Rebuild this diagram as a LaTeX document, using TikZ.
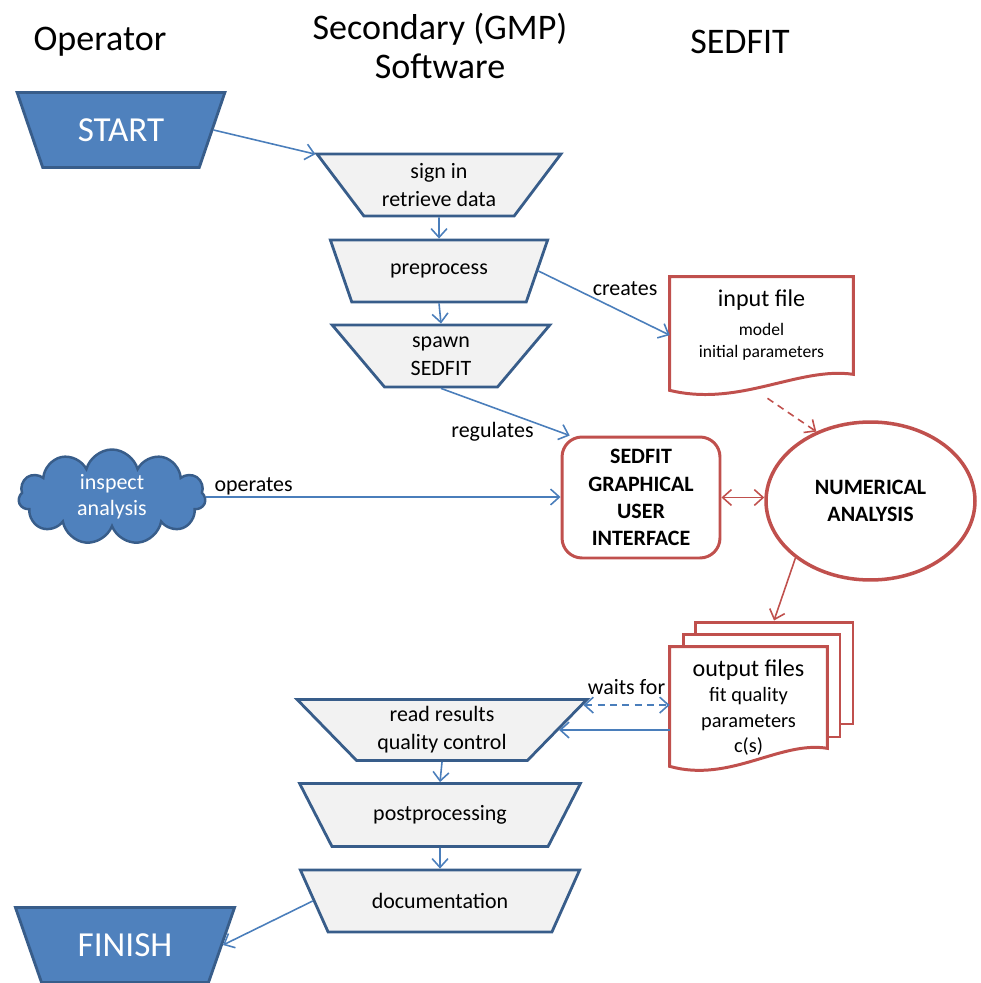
\documentclass[tikz,border=0pt]{standalone}
\usepackage{fontspec}
\setmainfont{Carlito}
\usepackage{xcolor}
\usetikzlibrary{arrows.meta,backgrounds,calc,positioning,shapes.geometric,shapes.symbols}
\definecolor{boxblue}{HTML}{4F81BD}
\definecolor{darkblue}{HTML}{385D8A}
\definecolor{lineblue}{HTML}{4A7EBB}
\definecolor{boxred}{HTML}{C0504D}
\definecolor{boxgrey}{HTML}{F2F2F2}
\tikzset{%
	stepbox/.style  = {draw=darkblue, fill=boxgrey, line width=1.6pt, trapezium, shape border rotate=180, trapezium stretches=true, inner sep=1pt, align=center, font=\fontsize{12.5}{16}\selectfont},
	termbox/.style  = {stepbox, fill=boxblue, text=white, font=\fontsize{20}{24}\selectfont},
	cloudbox/.style = {cloud, cloud puffs=11, cloud ignores aspect, draw=darkblue, fill=boxblue, line width=1.4pt, text=white, align=center, inner sep=1pt, font=\fontsize{12.5}{15}\selectfont},
	guibox/.style   = {draw=boxred, line width=1.7pt, rounded corners=0.4cm, align=center, font=\bfseries\fontsize{12.5}{15.5}\selectfont},
	calcbox/.style  = {ellipse, draw=boxred, line width=2pt, inner sep=0pt, align=center, font=\bfseries\fontsize{12.5}{15.5}\selectfont},
	docbox/.style   = {rectangle, inner sep=1pt, align=center},
	pagebox/.style  = {rectangle, draw=boxred, fill=white, line width=1.7pt, inner sep=0pt},
	docline/.style  = {draw=boxred, line width=1.7pt},
	title/.style    = {align=center, font=\fontsize{20.5}{22.5}\selectfont},
	linetext/.style = {font=\fontsize{12.5}{15}\selectfont},
	arrow/.style    = {draw=lineblue, line width=0.9pt, ->},
	redarrow/.style = {arrow, draw=boxred},
}
\begin{document}
\begin{tikzpicture}[x=0.02cm, y=-0.02cm, >={Straight Barb[length=5pt,width=9pt]}]
	\useasboundingbox (0,0) rectangle (980,983);
	% column heads
	\node[title] (operator) at (100,42) {Operator};
	\node[title] (secondary) at (440,46) {Secondary (GMP)\\Software};
	\node[title] (sedfit) at (740,42) {SEDFIT};
	
	% operator
	\node[termbox, trapezium angle=61, minimum width=4.16cm, minimum height=1.5cm] (start) at (121,130) {START};
	\node[cloudbox, minimum width=3.74cm, minimum height=1.9cm] (inspect) at (112,497) {inspect\\analysis};
	\node[termbox, trapezium angle=60, minimum width=4.4cm, minimum height=1.5cm] (finish) at (125,945) {FINISH};
	
	% secondary software
	\node[stepbox, trapezium angle=52, minimum width=4.88cm, minimum height=1.24cm] (signin) at (439,185) {sign in\\retrieve data};
	\node[stepbox, trapezium angle=55, minimum width=4.36cm, minimum height=1.24cm] (preprocess) at (439,271) {preprocess};
	\node[stepbox, trapezium angle=55, minimum width=4.36cm, minimum height=1.24cm] (spawn) at (441,356) {spawn\\SEDFIT};
	\node[stepbox, trapezium angle=47.5, minimum width=5.8cm, minimum height=1.22cm] (readres) at (442,730) {read results\\quality control};
	\node[stepbox, trapezium angle=47.5, minimum width=5.62cm, minimum height=1.26cm] (post) at (440,815) {postprocessing};
	\node[stepbox, trapezium angle=47.5, minimum width=5.62cm, minimum height=1.24cm] (docu) at (440,901) {documentation};
	
	% sedfit
	\node[docbox, minimum width=3.66cm, minimum height=1.94cm, font=\fontsize{10}{13}\selectfont] (inputfile) at (761.5,325.5) {{\fontsize{13.7}{16}\selectfont input file}\\[3pt]model\\initial parameters};
	\draw[docline] (inputfile.north west) -- (inputfile.north east) -- (inputfile.south east)
		.. controls +(-55,-8) and +(70,17) .. ($(inputfile.south west)+(0,16)$) -- cycle;
	\node[guibox, minimum width=3.16cm, minimum height=2.42cm] (gui) at (641,497.5) {SEDFIT\\GRAPHICAL\\USER\\INTERFACE};
	\node[calcbox, minimum width=4.18cm, minimum height=3.16cm] (numan) at (870.5,501) {NUMERICAL\\ANALYSIS};
	\node[docbox, minimum width=3.14cm, minimum height=2.42cm, font=\fontsize{11.6}{14.3}\selectfont] (outfront) at (748.5,707.5) {{\fontsize{13.7}{16}\selectfont output files}\\fit quality\\parameters\\c(s)};
	\begin{scope}[on background layer]
		\node[pagebox, minimum width=3.16cm, minimum height=2.04cm] (outback) at (774,673) {};
		\node[pagebox, minimum width=3.14cm, minimum height=2.06cm] (outmid) at (761.5,685.5) {};
		\draw[docline, fill=white] (outfront.north west) -- (outfront.north east) -- ($(outfront.south east)+(0,-20)$)
			.. controls +(-47,-8) and +(60,17) .. ($(outfront.south west)+(0,-2)$) -- cycle;
	\end{scope}
	
	% connectors
	\draw[arrow] (start.east) -- (signin.166);
	\draw[arrow] (signin.south) -- (preprocess.north);
	\draw[arrow] (preprocess.south) -- (spawn.north);
	\draw[arrow] (preprocess.east) -- node[linetext, pos=0.66, above=6pt] (creates) {creates} (inputfile.186);
	\draw[arrow] (spawn.south) -- node[linetext, pos=0.4, below=5pt] (regulates) {regulates} (gui.139);
	\draw[arrow] (inspect.east) -- node[linetext, pos=0, anchor=west, xshift=1pt, yshift=6pt] (operates) {operates} (inspect.east -| gui.west);
	\draw[redarrow, <->] (gui.east) -- (gui.east -| numan.west);
	\draw[redarrow, dashed, dash pattern=on 4pt off 3pt] ($(inputfile.south)+(6,24)$) -- (numan.128);
	\draw[redarrow] (numan.south west) -- (outback.north);
	\draw[arrow, <->, dash pattern=on 4pt off 3pt] (readres.10) -- node[linetext, midway, above=2pt] (waits) {waits for} (readres.10 -| outfront.west);
	\draw[arrow] (readres.east -| outfront.west) -- (readres.east);
	\draw[arrow] (readres.south) -- (post.north);
	\draw[arrow] (post.south) -- (docu.north);
	\draw[arrow] (docu.west) -- (finish.east);
\end{tikzpicture}
\end{document}
